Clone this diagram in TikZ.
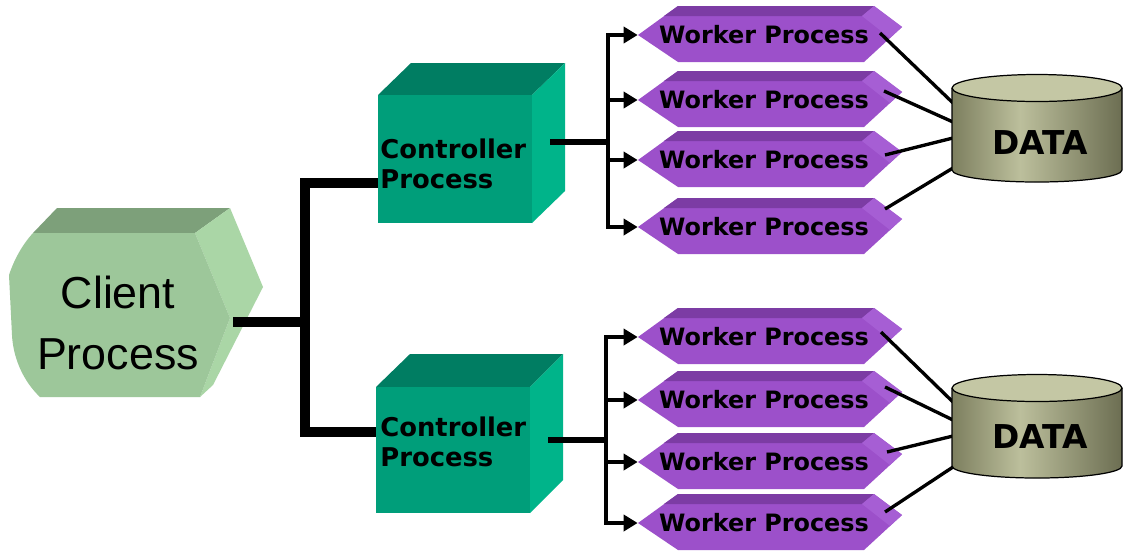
\documentclass[tikz,border=0pt]{standalone}
\usepackage{fontspec}
\setmainfont{DejaVu Sans}
\newfontfamily\clientfont{Liberation Sans}
\usetikzlibrary{arrows.meta}
\definecolor{cfront}{RGB}{157,199,154}
\definecolor{ctop}{RGB}{125,160,122}
\definecolor{cside}{RGB}{170,214,166}
\definecolor{kfront}{RGB}{0,158,122}
\definecolor{ktop}{RGB}{0,125,98}
\definecolor{kside}{RGB}{0,180,138}
\definecolor{wfront}{RGB}{156,80,202}
\definecolor{wtop}{RGB}{124,60,164}
\definecolor{wside}{RGB}{166,94,212}
\definecolor{dA}{RGB}{125,127,95}
\definecolor{dB}{RGB}{188,191,156}
\definecolor{dC}{RGB}{108,110,82}
\definecolor{dtop}{RGB}{196,199,164}
\pgfdeclarehorizontalshading{cylshade}{100bp}{color(0bp)=(dA); color(25bp)=(dA); color(45bp)=(dB); color(75bp)=(dC); color(100bp)=(dC)}
\begin{document}
\begin{tikzpicture}[x=0.02cm,y=-0.02cm,
  bus/.style={line width=6.2pt, line join=miter},
  wire/.style={line width=2.8pt},
  stub/.style={line width=3.8pt},
  dline/.style={line width=1.9pt},
  arr/.style={wire,-{Triangle[length=0.28cm,width=0.32cm]}},
  wtext/.style={font=\bfseries\fontsize{13.6pt}{16pt}\selectfont, inner sep=0pt, minimum width=5.04cm},
  ktext/.style={font=\bfseries\fontsize{14.7pt}{17pt}\selectfont, inner sep=0pt, align=left, anchor=west},
  dtext/.style={font=\bfseries\fontsize{18.7pt}{22pt}\selectfont, inner sep=0pt},
  kface/.style={fill=kfront, minimum width=3.08cm, inner sep=0pt, anchor=north west},
  workerpic/.pic={
    \fill[wfront] (0,0) -- (40,-29) -- (236,-29) -- (264,-8) -- (226,27) -- (40,27) -- cycle;
    \fill[wtop] (40,-29) -- (236,-29) -- (224,-19) -- (26,-19) -- cycle;
    \fill[wside] (224,-19) -- (236,-29) -- (264,-8) -- (252,3) -- cycle;
  }
]
\fill[white] (0,0) rectangle (1124,552);
\useasboundingbox (0,0) rectangle (1124,552);

% ---------- client ----------
\fill[ctop] (33,233) -- (57,208) -- (230,208) -- (195,233) -- cycle;
\fill[cside] (195,233) -- (230,208) -- (263,287) -- (213,385) -- (200,397) -- (230,318) -- cycle;
\fill[cfront] (33,233) -- (195,233) -- (230,318) -- (200,397) -- (40,397)
  .. controls (22,380) and (13,356) .. (12,335) -- (9,275)
  .. controls (14,260) and (22,245) .. (33,233) -- cycle;
\node[font=\clientfont\fontsize{25.5pt}{34.6pt}\selectfont, align=center, inner sep=0pt] (cl) at (118,323) {Client\\Process};
\coordinate (clr) at (233,322);

% ---------- controllers ----------
\fill[ktop] (378,95) -- (411,63) -- (565,63) -- (532,95) -- cycle;
\fill[kside] (532,95) -- (565,63) -- (565,191) -- (532,223) -- cycle;
\node[kface, minimum height=2.56cm] (c1) at (378,95) {};
\node[ktext] (c1t) at (380,164) {Controller\\Process};

\fill[ktop] (376,387) -- (410,354) -- (563,354) -- (530,387) -- cycle;
\fill[kside] (530,387) -- (563,354) -- (563,480) -- (530,513) -- cycle;
\node[kface, minimum height=2.52cm] (c2) at (376,387) {};
\node[ktext] (c2t) at (380,442) {Controller\\Process};

% ---------- client bus ----------
\coordinate (jm) at (305,322);
\coordinate (j1) at (305,183);
\coordinate (j2) at (305,432);
\draw[bus] (clr) -- (jm);
\draw[bus] (j1 -| c1.west) -- (j1) -- (j2) -- (j2 -| c2.west);

% ---------- workers ----------
\foreach \n/\cy in {1/35,2/100,3/160,4/227,5/337,6/400,7/462,8/523}{
  \pic at (638,\cy) {workerpic};
  \node[wtext] (w\n) at (764,\cy) {Worker Process};
}

% ---------- controller to workers ----------
\coordinate (c1o) at (550,142);
\coordinate (t1) at (608,0);
\draw[stub] (c1o) -- (c1o -| t1);
\draw[wire, line cap=rect] (w1.west -| t1) -- (w4.west -| t1);
\foreach \w in {w1,w2,w3,w4} \draw[arr] (\w.west -| t1) -- (\w.west);

\coordinate (c2o) at (548,440);
\coordinate (t2) at (606,0);
\draw[stub] (c2o) -- (c2o -| t2);
\draw[wire, line cap=rect] (w5.west -| t2) -- (w8.west -| t2);
\foreach \w in {w5,w6,w7,w8} \draw[arr] (\w.west -| t2) -- (\w.west);

% ---------- workers to data ----------
\coordinate (e1) at (880,33);  \coordinate (p1) at (953,103);
\coordinate (e2) at (884,91);  \coordinate (p2) at (953,122);
\coordinate (e3) at (885,155); \coordinate (p3) at (953,138);
\coordinate (e4) at (885,209); \coordinate (p4) at (953,168);
\coordinate (e5) at (881,332); \coordinate (p5) at (953,402);
\coordinate (e6) at (885,387); \coordinate (p6) at (953,420);
\coordinate (e7) at (887,452); \coordinate (p7) at (953,436);
\coordinate (e8) at (885,512); \coordinate (p8) at (953,467);
\foreach \i in {1,...,8} \draw[dline] (e\i) -- (p\i);

% ---------- data cylinders ----------
\foreach \n/\ty/\by/\ly in {1/88/170/143, 2/388/466/437}{
  \shade[shading=cylshade] (952,\ty) -- (952,\by) arc[start angle=180, end angle=0, x radius=85, y radius=12] -- (1122,\ty) -- cycle;
  \draw[line width=0.7pt] (952,\ty) -- (952,\by) arc[start angle=180, end angle=0, x radius=85, y radius=12] -- (1122,\ty);
  \filldraw[fill=dtop, line width=0.7pt] (1037,\ty) ellipse [x radius=85, y radius=13.5];
  \node[dtext] (d\n) at (1040,\ly) {DATA};
}
\end{tikzpicture}
\end{document}
